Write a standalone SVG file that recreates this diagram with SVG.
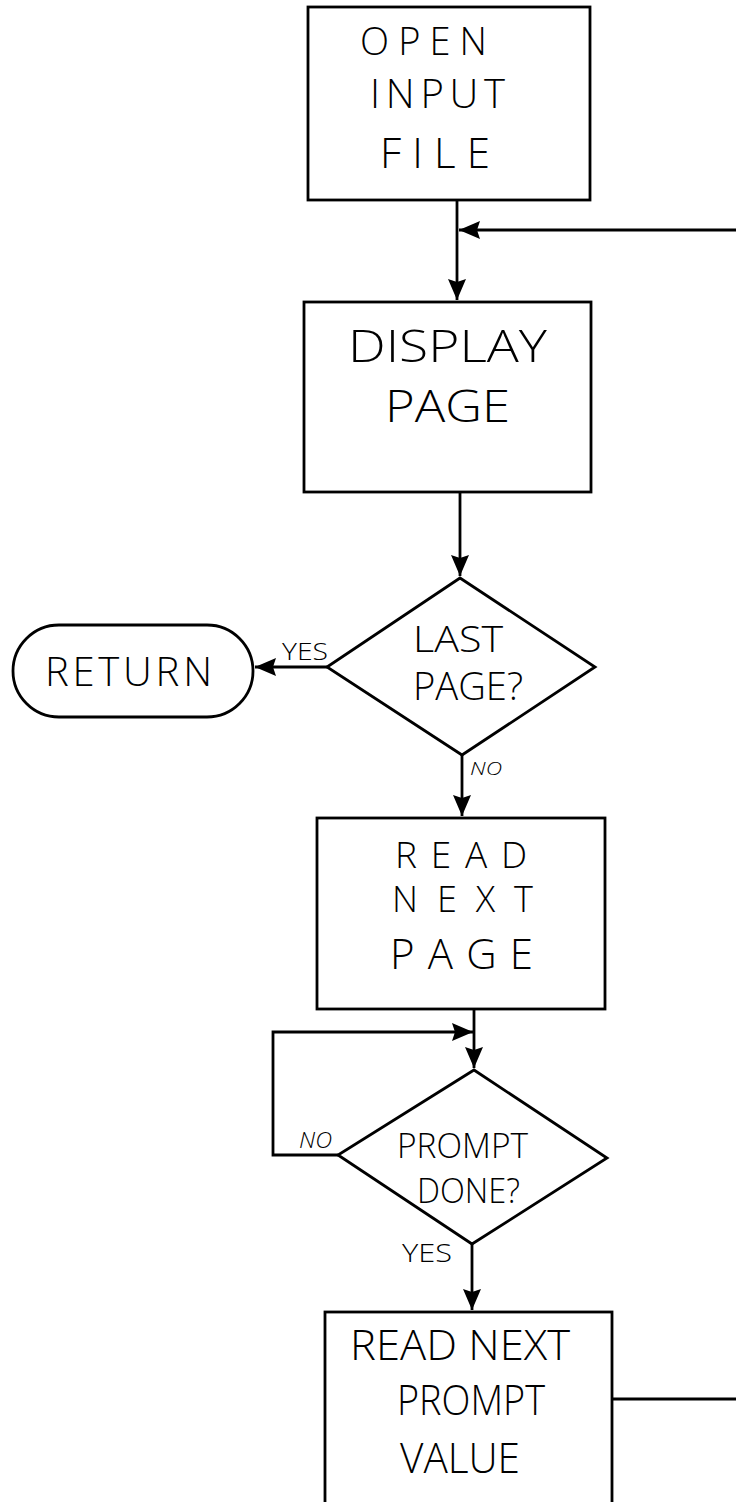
<svg xmlns="http://www.w3.org/2000/svg" width="736" height="1502" viewBox="0 0 736 1502">
<style>
.shape{fill:#fff;stroke:#000;stroke-width:2.8}
.conn{fill:none;stroke:#000;stroke-width:2.8}
.t{font-family:"Open Sans","Liberation Sans",sans-serif;font-weight:300;fill:#000}
.lbl{font-family:"Open Sans","Liberation Sans",sans-serif;font-weight:300;fill:#000}
</style>
<defs>
<marker id="ah" markerUnits="userSpaceOnUse" markerWidth="24" markerHeight="20" refX="21" refY="9" orient="auto">
<path d="M0,0 L21,9 L0,18 L3,9 Z" fill="#000"/>
</marker>
</defs>
<rect width="736" height="1502" fill="#fff"/>
<g id="connectors">
<path class="conn" d="M457,200 V300" marker-end="url(#ah)"/>
<path class="conn" d="M736,230 H459" marker-end="url(#ah)"/>
<path class="conn" d="M460,492 V576" marker-end="url(#ah)"/>
<path class="conn" d="M327,667 H255" marker-end="url(#ah)"/>
<path class="conn" d="M462,755 V816" marker-end="url(#ah)"/>
<path class="conn" d="M474,1009 V1068" marker-end="url(#ah)"/>
<path class="conn" d="M338,1155 H273 V1032 H473" marker-end="url(#ah)"/>
<path class="conn" d="M472,1244 V1310" marker-end="url(#ah)"/>
<path class="conn" d="M612,1399 H736"/>
</g>
<g id="open_input_file">
<rect class="shape" x="308" y="7" width="282" height="193"/>
<text class="t" x="360" y="55" font-size="38" textLength="127" lengthAdjust="spacing">OPEN</text>
<text class="t" x="370" y="108" font-size="40" textLength="135" lengthAdjust="spacing">INPUT</text>
<text class="t" x="380" y="168" font-size="42" textLength="110" lengthAdjust="spacing">FILE</text>
</g>
<g id="display_page">
<rect class="shape" x="304" y="302" width="287" height="190"/>
<text class="t" x="348" y="362" font-size="44" textLength="199" lengthAdjust="spacingAndGlyphs">DISPLAY</text>
<text class="t" x="385" y="422" font-size="45" textLength="125" lengthAdjust="spacingAndGlyphs">PAGE</text>
</g>
<g id="last_page">
<polygon class="shape" points="460,578 595,667 462,755 327,667"/>
<text class="t" x="413" y="652" font-size="37" textLength="90" lengthAdjust="spacingAndGlyphs">LAST</text>
<text class="t" x="413" y="700" font-size="38" textLength="110" lengthAdjust="spacingAndGlyphs">PAGE?</text>
<text class="lbl" x="282" y="660" font-size="24" textLength="46" lengthAdjust="spacingAndGlyphs">YES</text>
<text class="lbl" x="470" y="775" font-size="18" font-style="italic" textLength="32" lengthAdjust="spacingAndGlyphs">NO</text>
</g>
<g id="return">
<rect class="shape" x="13" y="625" width="240" height="92" rx="46" ry="46"/>
<text class="t" x="45" y="686" font-size="40" textLength="167" lengthAdjust="spacing">RETURN</text>
</g>
<g id="read_next_page">
<rect class="shape" x="317" y="818" width="288" height="191"/>
<text class="t" x="395" y="868" font-size="37" textLength="132" lengthAdjust="spacing">READ</text>
<text class="t" x="392" y="912" font-size="36" textLength="141" lengthAdjust="spacing">NEXT</text>
<text class="t" x="390" y="969" font-size="42" textLength="143" lengthAdjust="spacing">PAGE</text>
</g>
<g id="prompt_done">
<polygon class="shape" points="474,1070 607,1158 472,1244 338,1155"/>
<text class="t" x="397" y="1158" font-size="34" textLength="131" lengthAdjust="spacingAndGlyphs">PROMPT</text>
<text class="t" x="417" y="1203" font-size="34" textLength="103" lengthAdjust="spacingAndGlyphs">DONE?</text>
<text class="lbl" x="299" y="1148" font-size="22" font-style="italic" textLength="33" lengthAdjust="spacingAndGlyphs">NO</text>
<text class="lbl" x="402" y="1262" font-size="26" textLength="50" lengthAdjust="spacingAndGlyphs">YES</text>
</g>
<g id="read_next_prompt_value">
<rect class="shape" x="325" y="1312" width="287" height="220"/>
<text class="t" x="350" y="1360" font-size="42" textLength="220" lengthAdjust="spacingAndGlyphs">READ NEXT</text>
<text class="t" x="397" y="1415" font-size="42" textLength="148" lengthAdjust="spacingAndGlyphs">PROMPT</text>
<text class="t" x="400" y="1473" font-size="42" textLength="120" lengthAdjust="spacingAndGlyphs">VALUE</text>
</g>
</svg>
